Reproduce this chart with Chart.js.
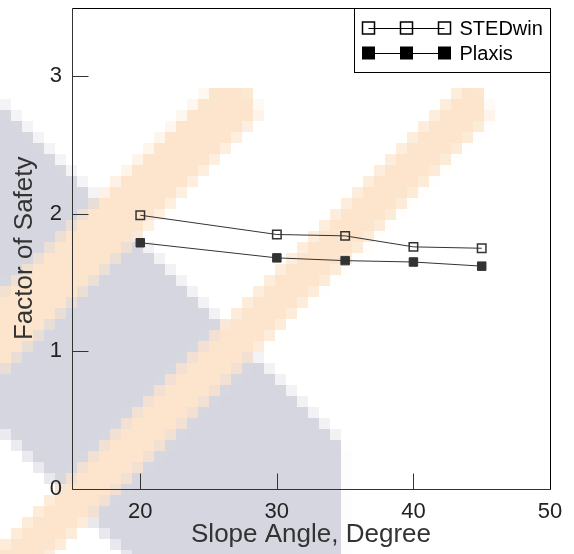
<!DOCTYPE html>
<html>
<head>
<meta charset="utf-8">
<title>Factor of Safety vs Slope Angle</title>
<script src="https://cdn.jsdelivr.net/npm/chart.js@4.4.1/dist/chart.umd.min.js"></script>
<style>
  html, body { margin: 0; padding: 0; background: #fff; }
  canvas { display: block; }
</style>
</head>
<body>
<canvas id="fos" width="574" height="554"></canvas>
<script>
// values
const angles = [20, 30, 35, 40, 45];
const stedwin = [1.99, 1.85, 1.84, 1.76, 1.75];
const plaxis = [1.79, 1.68, 1.66, 1.65, 1.62];
const xTickLabels = [20, 30, 40, 50];
const yTickLabels = [0, 1, 2, 3];

const FONT = "'Liberation Sans', Arial, Helvetica, sans-serif";
Chart.defaults.font.family = FONT;
Chart.defaults.color = '#222';

// faint pixelated watermark behind the plot (decoration only)
const WM_BLOCK = 11;
function paintWatermark(ctx, w, h) {
    const lw = Math.ceil(w / WM_BLOCK), lh = Math.ceil(h / WM_BLOCK);
    const off = document.createElement('canvas');
    off.width = lw;
    off.height = lh;
    const o = off.getContext('2d');
    o.scale(1 / WM_BLOCK, 1 / WM_BLOCK);
    const shapes = [
        ['#d6d6e0', [[-20, 82], [342, 444], [342, 600], [170, 600], [-20, 410]]],
        ['#fce5cc', [[212, 88], [250, 88], [260, 115], [-20, 395], [-20, 315]]],
        ['#fce5cc', [[460, 88], [482, 88], [490, 118], [8, 600], [-52, 600]]]
    ];
    shapes.forEach(function(s) {
        o.fillStyle = s[0];
        o.beginPath();
        s[1].forEach(function(p, i) {
            if (i === 0) o.moveTo(p[0], p[1]); else o.lineTo(p[0], p[1]);
        });
        o.closePath();
        o.fill();
    });
    ctx.save();
    ctx.imageSmoothingEnabled = false;
    ctx.drawImage(off, 0, 0, lw * WM_BLOCK, lh * WM_BLOCK);
    ctx.restore();
}

const watermark = {
    id: 'watermark',
    beforeDraw(chart) {
        paintWatermark(chart.ctx, chart.width, chart.height);
    }
};

// box frame plus inward major/minor ticks
const frame = {
    id: 'frame',
    afterDraw(chart) {
        const ctx = chart.ctx;
        const a = chart.chartArea;
        const x = chart.scales.x, y = chart.scales.y;
        const L = Math.round(a.left) + 0.5, R = Math.round(a.right) + 0.5;
        const T = Math.round(a.top) + 0.5, B = Math.round(a.bottom) + 0.5;
        ctx.save();
        ctx.lineWidth = 1;
        ctx.strokeStyle = '#333';
        ctx.beginPath();
        x.ticks.forEach(function(t) {
            const px = Math.round(x.getPixelForValue(t.value)) + 0.5;
            const len = xTickLabels.includes(t.value) ? 16 : 8;
            ctx.moveTo(px, B);
            ctx.lineTo(px, B - len);
        });
        y.ticks.forEach(function(t) {
            const py = Math.round(y.getPixelForValue(t.value)) + 0.5;
            const len = yTickLabels.includes(t.value) ? 16 : 8;
            ctx.moveTo(L, py);
            ctx.lineTo(L + len, py);
        });
        ctx.stroke();
        ctx.beginPath();
        ctx.moveTo(L, T);
        ctx.lineTo(L, B);
        ctx.lineTo(R, B);
        ctx.stroke();
        ctx.strokeStyle = '#000';
        ctx.beginPath();
        ctx.moveTo(L, T);
        ctx.lineTo(R, T);
        ctx.lineTo(R, B);
        ctx.stroke();
        ctx.restore();
    }
};

// boxed legend in the top-right corner: marker - line - marker - line - marker
const boxLegend = {
    id: 'boxLegend',
    afterDraw(chart) {
        const ctx = chart.ctx;
        const a = chart.chartArea;
        const w = 196, h = 64;
        const left = Math.round(a.right - w) + 0.5, top = Math.round(a.top) + 0.5;
        ctx.save();
        ctx.fillStyle = '#fff';
        ctx.fillRect(left, top, w, h);
        ctx.strokeStyle = '#000';
        ctx.lineWidth = 1;
        ctx.strokeRect(left, top, w, h);
        chart.data.datasets.forEach(function(ds, i) {
            const cy = Math.round(top + 19 + i * 25);
            const xs = [left + 14, left + 52, left + 90];
            const s = 13;
            ctx.strokeStyle = '#000';
            ctx.lineWidth = 1;
            ctx.beginPath();
            ctx.moveTo(xs[0], cy + 0.5);
            ctx.lineTo(xs[2], cy + 0.5);
            ctx.stroke();
            xs.forEach(function(cx) {
                if (ds.pointBackgroundColor === 'transparent') {
                    ctx.lineWidth = 1.5;
                    ctx.strokeRect(cx - s / 2 + 0.5, cy - s / 2 + 0.5, s - 1, s - 1);
                } else {
                    ctx.fillStyle = '#000';
                    ctx.fillRect(cx - s / 2, cy - s / 2, s, s);
                }
            });
            ctx.fillStyle = '#000';
            ctx.font = '20px ' + FONT;
            ctx.textBaseline = 'middle';
            ctx.textAlign = 'left';
            ctx.fillText(ds.label, left + 105, cy + 1);
        });
        ctx.restore();
    }
};

function pairs(ys) {
    return angles.map(function(a, i) { return { x: a, y: ys[i] }; });
}

new Chart(document.getElementById('fos').getContext('2d'), {
    type: 'line',
    data: {
        datasets: [{
            label: 'STEDwin',
            data: pairs(stedwin),
            borderColor: '#333',
            borderWidth: 1,
            pointStyle: 'rect',
            pointRadius: 6,
            pointBorderWidth: 1.5,
            pointBorderColor: '#333',
            pointBackgroundColor: 'transparent',
            tension: 0
        }, {
            label: 'Plaxis',
            data: pairs(plaxis),
            borderColor: '#333',
            borderWidth: 1,
            pointStyle: 'rect',
            pointRadius: 6,
            pointBorderWidth: 1,
            pointBorderColor: '#333',
            pointBackgroundColor: '#333',
            tension: 0
        }]
    },
    options: {
        responsive: false,
        animation: false,
        devicePixelRatio: 1,
        layout: { padding: { top: 6, right: 24, left: 0, bottom: 0 } },
        plugins: {
            legend: { display: false },
            tooltip: { enabled: false }
        },
        scales: {
            x: {
                type: 'linear',
                min: 15,
                max: 50,
                grid: { display: false, drawTicks: false },
                border: { display: false },
                ticks: {
                    stepSize: 5,
                    padding: 10,
                    maxRotation: 0,
                    font: { size: 22 },
                    color: '#222',
                    callback: function(v) { return xTickLabels.includes(v) ? String(v) : null; }
                },
                title: {
                    display: true,
                    text: 'Slope Angle, Degree',
                    font: { size: 26 },
                    color: '#333',
                    padding: { top: 4, bottom: 4 }
                },
                afterFit: function(s) {
                    s.height = 65;
                    s.paddingLeft = 0;
                    s.paddingRight = 0;
                }
            },
            y: {
                min: 0,
                max: 3.5,
                grid: { display: false, drawTicks: false },
                border: { display: false },
                ticks: {
                    stepSize: 0.5,
                    padding: 10,
                    font: { size: 22 },
                    color: '#222',
                    callback: function(v) { return yTickLabels.includes(v) ? String(v) : null; }
                },
                title: {
                    display: true,
                    text: 'Factor of Safety',
                    font: { size: 26 },
                    color: '#333',
                    padding: { top: 9, bottom: 9 }
                },
                afterFit: function(s) {
                    s.width = 72;
                    s.paddingTop = 0;
                    s.paddingBottom = 0;
                }
            }
        }
    },
    plugins: [watermark, frame, boxLegend]
});
</script>
</body>
</html>
